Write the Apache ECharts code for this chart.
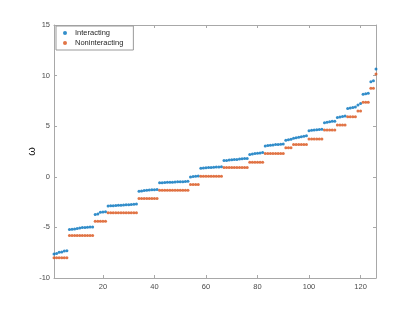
<!DOCTYPE html>
<html>
<head>
<meta charset="utf-8">
<script src="https://cdn.jsdelivr.net/npm/echarts@6/dist/echarts.min.js"></script>
<style>
html,body{margin:0;padding:0;background:#fff;}
#chart{width:415px;height:312px;}
</style>
</head>
<body>
<div id="chart"></div>
<script>
var seriesNames = ['Interacting', 'Noninteracting'];
var xTicks = [20, 40, 60, 80, 100, 120];
var yTicks = [-10, -5, 0, 5, 10, 15];

var interacting = [
  -7.62,-7.58,-7.45,-7.42,-7.32,-7.30,
  -5.20,-5.18,-5.15,-5.12,-5.05,-5.02,-5.00,-4.98,-4.95,-4.95,
  -3.72,-3.68,-3.50,-3.48,-3.45,
  -2.88,-2.86,-2.85,-2.83,-2.82,-2.80,-2.78,-2.77,-2.75,-2.74,-2.72,-2.70,
  -1.42,-1.40,-1.35,-1.33,-1.30,-1.28,-1.27,-1.25,
  -0.60,-0.58,-0.56,-0.55,-0.54,-0.53,-0.52,-0.50,-0.49,-0.48,-0.47,-0.45,
  -0.02,0.02,0.05,0.08,
  0.85,0.87,0.90,0.92,0.93,0.95,0.96,0.98,1.00,
  1.60,1.62,1.65,1.68,1.70,1.72,1.75,1.78,1.80,1.82,
  2.20,2.25,2.30,2.33,2.36,2.40,
  3.05,3.10,3.12,3.15,3.18,3.20,3.22,3.25,
  3.60,3.65,3.70,
  3.80,3.85,3.90,3.95,4.00,4.05,
  4.55,4.60,4.62,4.65,4.68,4.70,
  5.35,5.40,5.45,5.48,5.50,
  5.85,5.90,5.95,6.00,
  6.75,6.80,6.85,6.90,
  7.10,7.25,
  8.15,8.20,8.25,
  9.40,9.50,
  10.65
];

var noninteracting = [
  -8.00,-8.00,-8.00,-8.00,-8.00,-8.00,
  -5.80,-5.80,-5.80,-5.80,-5.80,-5.80,-5.80,-5.80,-5.80,-5.80,
  -4.40,-4.40,-4.40,-4.40,-4.40,
  -3.56,-3.56,-3.56,-3.56,-3.56,-3.56,-3.56,-3.56,-3.56,-3.56,-3.56,-3.56,
  -2.15,-2.15,-2.15,-2.15,-2.15,-2.15,-2.15,-2.15,
  -1.32,-1.32,-1.32,-1.32,-1.32,-1.32,-1.32,-1.32,-1.32,-1.32,-1.32,-1.32,
  -0.75,-0.75,-0.75,-0.75,
  0.05,0.05,0.05,0.05,0.05,0.05,0.05,0.05,0.05,
  0.93,0.93,0.93,0.93,0.93,0.93,0.93,0.93,0.93,0.93,
  1.45,1.45,1.45,1.45,1.45,1.45,
  2.31,2.31,2.31,2.31,2.31,2.31,2.31,2.31,
  2.87,2.87,2.87,
  3.20,3.20,3.20,3.20,3.20,3.20,
  3.73,3.73,3.73,3.73,3.73,3.73,
  4.62,4.62,4.62,4.62,4.62,
  5.11,5.11,5.11,5.11,
  5.94,5.94,5.94,5.94,
  6.50,6.50,
  7.36,7.36,7.36,
  8.74,8.74,
  10.16
];

function pairs(arr) {
  var out = [];
  for (var i = 0; i < arr.length; i++) out.push([i + 1, arr[i]]);
  return out;
}

var axisColor = '#a8a8a8';
var labelColor = '#4a4a4a';
var fontFam = 'Liberation Sans, Arial, sans-serif';

var chart = echarts.init(document.getElementById('chart'), null, {renderer: 'canvas'});
chart.setOption({
  animation: false,
  backgroundColor: '#ffffff',
  grid: {left: 54, top: 25, width: 322, height: 253, containLabel: false},
  legend: {
    data: seriesNames,
    orient: 'vertical',
    left: 56, top: 26,
    padding: [3, 10, 3, 7],
    itemGap: 2,
    itemWidth: 4, itemHeight: 4,
    icon: 'circle',
    borderColor: '#9a9a9a', borderWidth: 1,
    backgroundColor: '#ffffff',
    textStyle: {fontSize: 7.5, color: '#262626', fontFamily: fontFam, padding: [0, 0, 0, 3]}
  },
  xAxis: [{
    type: 'value', min: 1, max: 126, position: 'bottom',
    axisLine: {show: true, onZero: false, lineStyle: {color: axisColor, width: 1}},
    axisTick: {show: true, inside: true, length: 3, customValues: xTicks, lineStyle: {color: axisColor}},
    axisLabel: {show: true, customValues: xTicks, fontSize: 7.5, color: labelColor, fontFamily: fontFam, margin: 5},
    splitLine: {show: false}
  }, {
    type: 'value', min: 1, max: 126, position: 'top',
    axisLine: {show: true, onZero: false, lineStyle: {color: axisColor, width: 1}},
    axisTick: {show: true, inside: true, length: 3, customValues: xTicks, lineStyle: {color: axisColor}},
    axisLabel: {show: false},
    splitLine: {show: false}
  }],
  yAxis: [{
    type: 'value', min: -10, max: 15, interval: 5, position: 'left',
    name: 'ω', nameLocation: 'middle', nameGap: 17, nameRotate: 90,
    nameMoveOverlap: false,
    nameTextStyle: {fontSize: 11, color: '#262626', fontFamily: fontFam},
    axisLine: {show: true, onZero: false, lineStyle: {color: axisColor, width: 1}},
    axisTick: {show: true, inside: true, length: 3, lineStyle: {color: axisColor}},
    axisLabel: {show: true, fontSize: 7.5, color: labelColor, fontFamily: fontFam, margin: 4},
    splitLine: {show: false}
  }, {
    type: 'value', min: -10, max: 15, interval: 5, position: 'right',
    axisLine: {show: true, onZero: false, lineStyle: {color: axisColor, width: 1}},
    axisTick: {show: true, inside: true, length: 3, lineStyle: {color: axisColor}},
    axisLabel: {show: false},
    splitLine: {show: false}
  }],
  series: [{
    name: seriesNames[0], type: 'scatter', xAxisIndex: 0, yAxisIndex: 0,
    symbol: 'circle', symbolSize: 3,
    itemStyle: {color: '#0072BD'},
    data: pairs(interacting)
  }, {
    name: seriesNames[1], type: 'scatter', xAxisIndex: 0, yAxisIndex: 0,
    symbol: 'circle', symbolSize: 3,
    itemStyle: {color: '#D95319'},
    data: pairs(noninteracting)
  }]
});
</script>
</body>
</html>
